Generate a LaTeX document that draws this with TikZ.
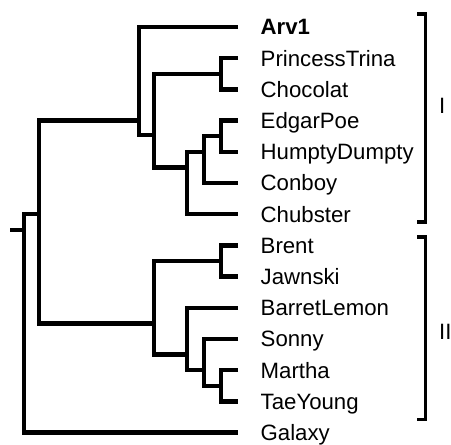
\documentclass[tikz,border=0pt]{standalone}
\usepackage{fontspec}
\setmainfont{Liberation Sans}
\begin{document}
\begin{tikzpicture}[x=1pt,y=-1pt,
  branch/.style={line width=4.3pt, line join=miter},
  bracketline/.style={line width=3.6pt, line join=miter},
  leaflabel/.style={anchor=base west, inner sep=0pt, font=\fontsize{22.2}{26}\selectfont},
  cladelabel/.style={anchor=base west, inner sep=0pt, font=\fontsize{22.2}{26}\selectfont}]
\useasboundingbox (0,0) rectangle (451,445);

% leaf tips and their labels (rows 31.2 apart)
\coordinate (tArv) at (238,27);     \node[leaflabel] (lArv) at (260.5,34.8)   {\bfseries Arv1};
\coordinate (tPT)  at (238,58.2);   \node[leaflabel] (lPT)  at (260.5,66)     {PrincessTrina};
\coordinate (tCh)  at (238,89.4);   \node[leaflabel] (lCh)  at (260.5,97.2)   {Chocolat};
\coordinate (tEP)  at (238,120.6);  \node[leaflabel] (lEP)  at (260.5,128.4)  {EdgarPoe};
\coordinate (tHD)  at (238,151.8);  \node[leaflabel] (lHD)  at (260.5,159.6)  {HumptyDumpty};
\coordinate (tCo)  at (238,183);    \node[leaflabel] (lCo)  at (260.5,190.8)  {Conboy};
\coordinate (tCs)  at (238,214.2);  \node[leaflabel] (lCs)  at (260.5,222)    {Chubster};
\coordinate (tBr)  at (238,245.4);  \node[leaflabel] (lBr)  at (260.5,253.2)  {Brent};
\coordinate (tJa)  at (238,276.6);  \node[leaflabel] (lJa)  at (260.5,284.4)  {Jawnski};
\coordinate (tBL)  at (238,307.8);  \node[leaflabel] (lBL)  at (260.5,315.6)  {BarretLemon};
\coordinate (tSo)  at (238,339);    \node[leaflabel] (lSo)  at (260.5,346.8)  {Sonny};
\coordinate (tMa)  at (238,370.2);  \node[leaflabel] (lMa)  at (260.5,378)    {Martha};
\coordinate (tTY)  at (238,401.4);  \node[leaflabel] (lTY)  at (260.5,409.2)  {TaeYoung};
\coordinate (tGa)  at (238,432.6);  \node[leaflabel] (lGa)  at (260.5,440.4)  {Galaxy};

% internal nodes: (x of the vertical bar, y where the parent attaches)
\coordinate (root)   at (24,229.8);
\coordinate (rstub)  at (10,229.8);
\coordinate (nIII)   at (39,214.2);
\coordinate (nI)     at (139,120.6);
\coordinate (nIrest) at (154,135);
\coordinate (nPC)    at (221,73.8);
\coordinate (nX)     at (187,167.4);
\coordinate (nEHC)   at (204,151.8);
\coordinate (nEH)    at (221,136.2);
\coordinate (nII)    at (154,323.4);
\coordinate (nBJ)    at (221,261);
\coordinate (nY)     at (187,354.6);
\coordinate (nZ)     at (204,370.2);
\coordinate (nMT)    at (221,385.8);

% branches
\draw[branch] (rstub) -- (root);
\draw[branch] (nIII) -| (root) |- (tGa);
\draw[branch] (nI) -| (nIII) |- (nII);
\draw[branch] (tArv) -| (nI) |- (nIrest);
\draw[branch] (nPC) -| (nIrest) |- (nX);
\draw[branch] (tPT) -| (nPC) |- (tCh);
\draw[branch] (nEHC) -| (nX) |- (tCs);
\draw[branch] (nEH) -| (nEHC) |- (tCo);
\draw[branch] (tEP) -| (nEH) |- (tHD);
\draw[branch] (nBJ) -| (nII) |- (nY);
\draw[branch] (tBr) -| (nBJ) |- (tJa);
\draw[branch] (tBL) -| (nY) |- (nZ);
\draw[branch] (tSo) -| (nZ) |- (nMT);
\draw[branch] (tMa) -| (nMT) |- (tTY);

% clade brackets
\coordinate (bIa) at (417,14);
\coordinate (bIb) at (417,221.7);
\coordinate (bIIa) at (417,236.7);
\coordinate (bIIb) at (417,419.3);
\draw[bracketline] (bIa) -- ++(8.3,0) |- (bIb);
\draw[bracketline] (bIIa) -- ++(8.3,0) |- (bIIb);
\node[cladelabel] (cI)  at (439,113.8) {I};
\node[cladelabel] (cII) at (439,339.8) {II};
\end{tikzpicture}
\end{document}
